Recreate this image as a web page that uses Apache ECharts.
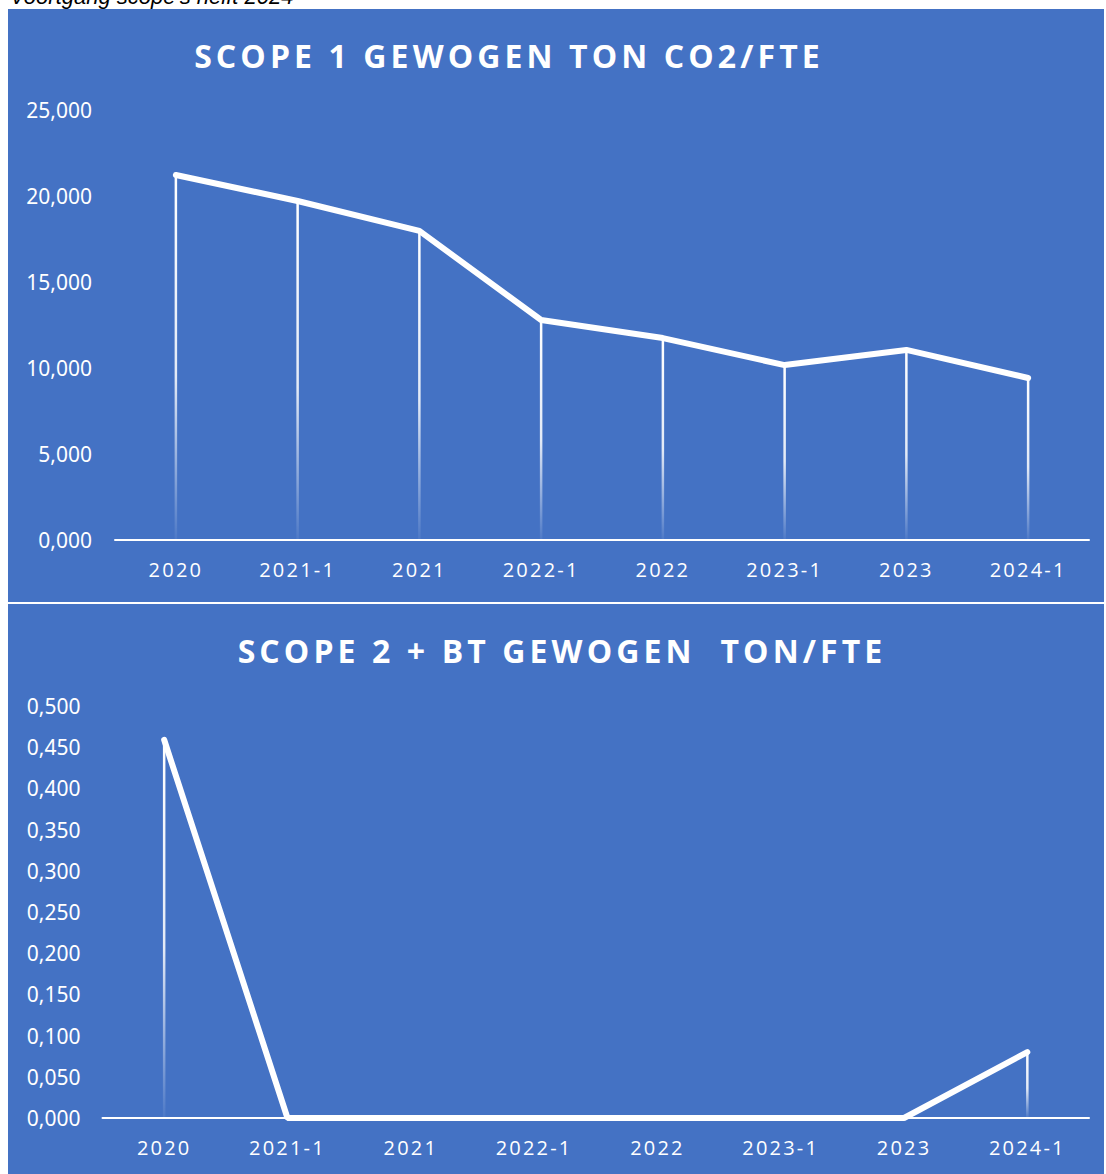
<!DOCTYPE html>
<html>
<head>
<meta charset="utf-8">
<script src="https://cdn.jsdelivr.net/npm/echarts@6/dist/echarts.min.js"></script>
<style>
  html, body { margin: 0; padding: 0; background: #fff; }
  #chart { width: 1106px; height: 1174px; }
  /* Excel-achtige letterafstand voor titels en categorie-labels */
  #chart text[style*="Open Sans"] { letter-spacing: 2.2px; }
  #chart text[style*="bold"][style*="Open Sans"] { letter-spacing: 4.1px; }
</style>
</head>
<body>
<div id="chart"></div>
<script>
// categorieen (halfjaar / jaar)
var categories = ['2020', '2021-1', '2021', '2022-1', '2022', '2023-1', '2023', '2024-1'];
// scope 1 gewogen ton CO2 per FTE
var scope1 = [21.22, 19.71, 17.97, 12.79, 11.74, 10.17, 11.05, 9.42];
// scope 2 + business travel gewogen ton per FTE
var scope2 = [0.459, 0, 0, 0, 0, 0, 0, 0.080];

var title1 = 'SCOPE 1 GEWOGEN TON CO2/FTE';
var title2 = 'SCOPE 2 + BT GEWOGEN  TON/FTE';
var pageText = "Voortgang scope's helft 2024";

var blue = '#4472C4';

function nlNumber(v) {
    return v.toFixed(3).replace('.', ',');
}

// verticale lijn die naar beneden vervaagt
var dropColor = new echarts.graphic.LinearGradient(0, 0, 0, 1, [
    { offset: 0, color: 'rgba(255,255,255,1)' },
    { offset: 0.55, color: 'rgba(255,255,255,0.85)' },
    { offset: 1, color: 'rgba(255,255,255,0.05)' }
]);

function xAxis(idx) {
    return {
        type: 'category',
        gridIndex: idx,
        data: categories,
        boundaryGap: true,
        axisLine: { lineStyle: { color: '#fff', width: 2 } },
        axisTick: { show: false },
        axisLabel: {
            color: '#fff',
            fontFamily: 'Open Sans',
            fontSize: 20,
            margin: 19,
            interval: 0
        }
    };
}

function yAxis(idx, max, step, margin) {
    return {
        type: 'value',
        gridIndex: idx,
        min: 0,
        max: max,
        interval: step,
        axisLine: { show: false },
        axisTick: { show: false },
        splitLine: { show: false },
        axisLabel: {
            color: '#fff',
            fontFamily: 'Noto Sans',
            fontSize: 21,
            margin: margin,
            formatter: nlNumber
        }
    };
}

var chart = echarts.init(document.getElementById('chart'), null, { renderer: 'svg' });

var option = {
    animation: false,
    graphic: [
        {
            type: 'text', x: 10, y: 7, z: 0,
            style: { text: pageText, font: "italic 22px 'Liberation Sans'", fill: '#000', textVerticalAlign: 'bottom' }
        },
        { type: 'rect', shape: { x: 8, y: 9, width: 1096, height: 593 }, style: { fill: blue }, z: -10 },
        { type: 'rect', shape: { x: 8, y: 604, width: 1096, height: 570 }, style: { fill: blue }, z: -10 },
        {
            type: 'text', x: 509, y: 55, z: 10,
            style: { text: title1, font: "bold 32px 'Open Sans'", fill: '#fff', textAlign: 'center', textVerticalAlign: 'middle' }
        },
        {
            type: 'text', x: 562, y: 650, z: 10,
            style: { text: title2, font: "bold 32px 'Open Sans'", fill: '#fff', textAlign: 'center', textVerticalAlign: 'middle' }
        }
    ],
    grid: [
        { left: 115, right: 17, top: 110, height: 430 },
        { left: 102.5, right: 17, top: 706, height: 412 }
    ],
    xAxis: [xAxis(0), xAxis(1)],
    yAxis: [yAxis(0, 25, 5, 23), yAxis(1, 0.5, 0.05, 22)],
    series: [
        {
            type: 'bar', xAxisIndex: 0, yAxisIndex: 0,
            data: scope1, barWidth: 2.5,
            itemStyle: { color: dropColor }, silent: true
        },
        {
            type: 'line', xAxisIndex: 0, yAxisIndex: 0,
            data: scope1, symbol: 'none', z: 5,
            lineStyle: { color: '#fff', width: 6, cap: 'round' }
        },
        {
            type: 'bar', xAxisIndex: 1, yAxisIndex: 1,
            data: scope2, barWidth: 2.5,
            itemStyle: { color: dropColor }, silent: true
        },
        {
            type: 'line', xAxisIndex: 1, yAxisIndex: 1,
            data: scope2, symbol: 'none', z: 5,
            lineStyle: { color: '#fff', width: 6, cap: 'round' }
        }
    ]
};

chart.setOption(option);
</script>
</body>
</html>
